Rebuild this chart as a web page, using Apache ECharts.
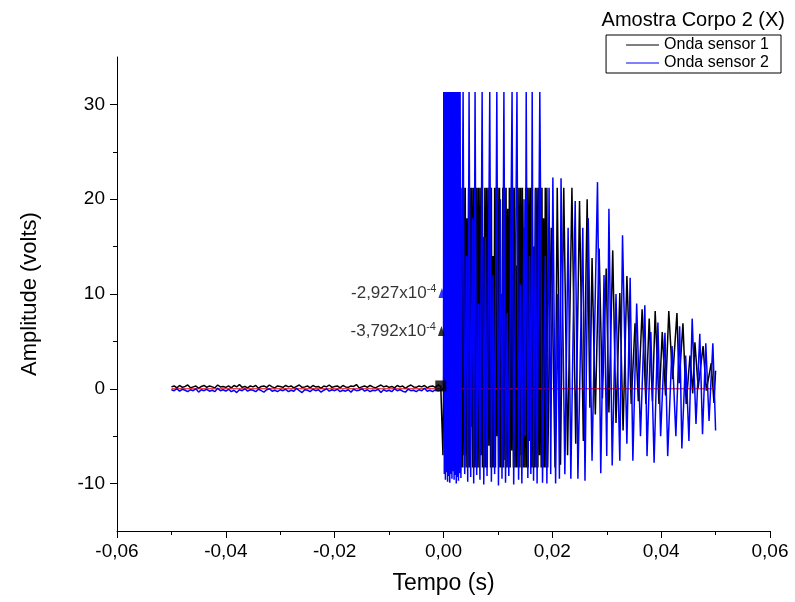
<!DOCTYPE html>
<html><head><meta charset="utf-8">
<script src="https://cdn.jsdelivr.net/npm/echarts@6/dist/echarts.min.js"></script>
<style>html,body{margin:0;padding:0;background:#fff}#c{width:795px;height:602px}</style>
</head><body><div id="c"></div>
<script>
// ---- tick labels ----
const xTicks = [-0.06, -0.04, -0.02, 0, 0.02, 0.04, 0.06];
const yMajor = [-10, 0, 10, 20, 30];
const yMinor = [-5, 5, 15, 25];

// ---- pre-trigger noise (time in ms) ----
const preT = [-50,-49.5,-49,-48.5,-48,-47.5,-47,-46.5,-46,-45.5,-45,-44.5,-44,-43.5,-43,-42.5,-42,-41.5,-41,-40.5,-40,-39.5,-39,-38.5,-38,-37.5,-37,-36.5,-36,-35.5,-35,-34.5,-34,-33.5,-33,-32.5,-32,-31.5,-31,-30.5,-30,-29.5,-29,-28.5,-28,-27.5,-27,-26.5,-26,-25.5,-25,-24.5,-24,-23.5,-23,-22.5,-22,-21.5,-21,-20.5,-20,-19.5,-19,-18.5,-18,-17.5,-17,-16.5,-16,-15.5,-15,-14.5,-14,-13.5,-13,-12.5,-12,-11.5,-11,-10.5,-10,-9.5,-9,-8.5,-8,-7.5,-7,-6.5,-6,-5.5,-5,-4.5,-4,-3.5,-3,-2.5,-2,-1.5,-1,-0.5];
const preS1 = [0.2,0.3,0.1,0.35,0.15,0.25,0.4,0.1,0.2,0.3,
  0.05,0.25,0.35,0.15,0.3,0.2,0.1,0.4,0.2,0.25,
  0.15,0.3,0.1,0.35,0.2,0.45,0.15,0.25,0.1,0.3,
  0.2,0.35,0.05,0.25,0.3,0.15,0.4,0.2,0.1,0.3,
  0.25,0.15,0.35,0.2,0.3,0.1,0.25,0.4,0.15,0.2,
  0.3,0.1,0.35,0.2,0.25,0.05,0.3,0.2,0.4,0.15,
  0.25,0.3,0.1,0.35,0.2,0.15,0.3,0.25,0.45,0.1,
  0.2,0.3,0.15,0.35,0.2,0.1,0.25,0.4,0.2,0.3,
  0.15,0.25,0.1,0.35,0.2,0.3,0.05,0.25,0.4,0.2,
  0.15,0.3,0.2,0.35,0.1,0.25,0.3,0.15,0.4,0.25];
const preS2 = [-0.1,-0.2,0.0,-0.25,-0.05,-0.15,-0.3,-0.1,-0.2,0.0,
  -0.35,-0.1,-0.2,-0.05,-0.25,-0.15,-0.3,0.05,-0.2,-0.1,
  -0.25,-0.05,-0.3,-0.15,-0.4,-0.1,-0.2,0.0,-0.25,-0.1,
  -0.15,-0.3,-0.05,-0.2,-0.35,-0.1,0.0,-0.25,-0.15,-0.3,
  -0.1,-0.2,-0.05,-0.3,-0.15,-0.25,0.05,-0.2,-0.4,-0.1,
  -0.15,-0.3,-0.05,-0.2,-0.1,-0.35,-0.15,0.0,-0.25,-0.1,
  -0.2,-0.05,-0.3,-0.15,-0.25,-0.1,-0.35,-0.05,-0.2,-0.15,
  0.0,-0.25,-0.1,-0.3,-0.15,-0.2,-0.05,-0.4,-0.1,-0.25,
  -0.15,-0.3,0.0,-0.2,-0.1,-0.25,-0.35,-0.05,-0.2,-0.15,
  -0.3,-0.1,-0.2,0.05,-0.25,-0.15,-0.3,-0.1,-0.2,-0.15];

// ---- sensor 1: trigger edge (ms, volts) ----
const s1EdgeT = [-0.3, -0.1, 0.1];
const s1EdgeV = [0.25, -7.0, 5.0];
// ---- sensor 1: clipped burst (ms, volts) ----
const s1BurstT = [0.4,0.55,0.7,0.85,1.0,1.15,1.3,1.45,1.6,1.75,1.9,2.05,2.2,2.35,2.5,2.65,2.8,2.95,3.1,3.25,3.4,3.55,3.7,3.85,4.0,4.15,4.3,4.45,4.6,4.75,4.9,5.05,5.2,5.35,5.5,5.65,5.8,5.95,6.1,6.25,6.4,6.55,6.7,6.85,7.0,7.15,7.3,7.45,7.6,7.75,7.9,8.05,8.2,8.35,8.5,8.65,8.8,8.95,9.1,9.25,9.4,9.55,9.7,9.85,10.0,10.15,10.3,10.45,10.6,10.75,10.9,11.05,11.2,11.35,11.5,11.65,11.8,11.95,12.1,12.25,12.4,12.55,12.7,12.85,13.0,13.15,13.3,13.45,13.6,13.75,13.9,14.05,14.2,14.35,14.5,14.65,14.8,14.95,15.1,15.25,15.4,15.55,15.7,15.85,16.0,16.15,16.3,16.45,16.6,16.75,16.9,17.05,17.2,17.35,17.5,17.65,17.8,17.95,18.1,18.25,18.4,18.55,18.7,18.85,19.0,19.15];
const s1BurstV = [21.2,-8.3,21.2,-8.3,15.0,-8.3,21.2,-7.5,21.2,-8.3,21.2,-6.0,21.2,-8.3,19.0,-8.3,21.2,-8.3,8.0,-8.3,
  21.2,-8.3,21.2,-7.0,21.2,-8.3,18.0,-8.3,21.2,-8.3,21.2,-4.0,21.2,-8.3,21.2,-8.3,12.0,-8.3,21.2,-8.3,
  21.2,-8.3,21.2,-7.0,21.2,-8.3,16.0,-8.3,21.2,-8.3,21.2,-8.3,21.2,-6.0,21.2,-8.3,21.2,-8.3,14.0,-8.3,
  21.2,-8.3,21.2,-5.0,21.2,-8.3,21.2,-8.3,10.0,-8.3,21.2,-8.3,21.2,-7.5,21.2,-8.3,19.0,-8.3,21.2,-8.3,
  21.2,-6.5,21.2,-8.3,21.2,-8.3,13.0,-8.3,21.2,-8.3,21.2,-8.3,21.2,-7.0,21.2,-8.3,17.0,-8.3,21.2,-8.3,
  21.2,-8.3,21.2,-5.5,21.2,-8.3,21.2,-8.3,15.0,-8.3,21.2,-8.3,21.2,-8.3,21.2,-7.0,21.2,-8.3,21.2,-8.3,
  18.0,-8.3,21.2,-8.3,21.2,-8.3];
// ---- sensor 1: decay (ms, volts) ----
const s1DecayT = [19.8,20.5,20.9,21.5,22.1,22.8,23.6,24.3,25.0,25.7,26.4,26.9,27.3,27.9,28.6,29.2,29.9,30.4,31.1,31.7,32.4,33.0,33.7,34.5,35.2,35.8,36.5,37.2,37.8,38.4,38.9,39.6,40.2,40.8,41.4,42.1,42.9,43.3,44.0,44.6,45.3,45.8,46.2,46.8,47.7,48.3,49.2,49.7,50.0];
const s1DecayV = [17.0,-8.3,21.2,-8.0,21.2,-7.0,21.2,-5.8,19.8,-5.5,20.0,-2.0,13.8,-2.7,14.8,-1.0,12.7,-2.5,14.6,-3.6,10.1,-4.4,11.9,-1.6,6.9,-1.3,8.4,-1.6,7.4,-1.3,8.2,-1.6,6.0,-0.7,8.2,1.0,8.0,0.6,6.9,-1.6,3.5,-0.5,4.9,0.1,4.5,-0.2,2.7,-1.5,1.9];

// ---- sensor 2 after trigger (ms, volts) ----
const s2T = [0.0,0.05,0.15,0.25,0.35,0.45,0.55,0.65,0.75,0.85,0.95,1.05,1.15,1.25,1.35,1.45,1.55,1.65,1.75,1.85,1.95,2.05,2.15,2.25,2.35,2.45,2.55,2.65,2.75,2.85,2.95,3.05,3.2,3.6,3.9,4.2,4.45,4.7,5.0,5.3,5.55,5.8,6.1,6.4,6.7,7.1,7.4,7.7,8.0,8.5,8.8,9.1,9.4,9.8,10.1,10.45,10.75,11.1,11.4,11.7,12.0,12.6,12.9,13.5,13.8,14.1,14.4,14.8,15.0,15.2,15.5,15.8,16.05,16.3,16.55,16.9,17.2,17.7,18.2,18.7,19.0,19.4,19.7,20.1,20.6,21.0,21.3,21.6,22.3,22.9,23.4,24.2,24.7,25.6,26.0,26.6,27.3,28.3,28.9,29.5,30.0,30.4,31.0,31.7,32.4,32.9,33.7,34.3,34.8,35.5,36.2,37.0,37.4,38.1,38.7,39.4,39.9,40.7,41.2,42.0,42.7,43.4,43.8,44.5,45.1,45.7,46.4,47.1,47.6,48.2,48.8,49.5,50.0];
const s2V = [0.0,31.3,-9.0,31.3,-9.6,31.3,-8.8,31.3,-9.8,31.3,-9.2,31.3,-9.9,31.3,-9.0,31.3,-9.5,31.3,-8.7,31.3,-9.6,31.3,-9.1,31.3,-10.0,31.3,-9.3,31.3,-9.7,31.3,-8.9,31.3,-9.4,31.3,-9.0,14.0,-9.8,31.3,-9.3,18.0,-10.0,31.3,-9.1,9.0,-9.6,31.3,-10.1,16.0,-9.2,31.3,-9.8,12.0,-9.0,31.3,-10.2,20.0,-9.5,31.3,-9.9,8.0,-9.2,31.3,-10.1,31.3,-9.6,11.0,-10.0,20.0,-5.0,31.3,-9.4,14.0,-9.0,31.3,-9.7,21.0,-10.0,31.3,-9.9,14.0,-10.0,21.2,-9.0,22.3,-10.0,10.0,-9.5,22.2,-9.0,17.0,-9.5,19.8,-9.5,17.0,-9.7,18.0,-7.6,21.8,-8.9,12.0,-7.1,19.0,-8.1,10.0,-7.6,16.2,-5.8,11.7,-7.6,9.0,-5.0,8.8,-7.1,6.0,-7.8,7.0,-5.0,5.9,-7.1,4.5,-5.0,6.6,-6.3,3.5,-5.5,7.4,-3.7,5.8,-4.8,4.8,-3.4,4.8,-4.4];

// ---- zero reference line (ms, volts) ----
const baseT = [-50, 50];
const baseV = [0, 0];

// ---- annotated points (ms, volts) ----
const startMarkT = [-0.5];
const startMarkV = [0.3];
const triT1 = [-0.3792];
const triV1 = [6.1];
const triLbl1 = ['-3,792x10', '-4'];
const triT2 = [-0.2927];
const triV2 = [10.1];
const triLbl2 = ['-2,927x10', '-4'];

const FONT = 'Liberation Sans, Arial, sans-serif';
const toXY = (T, V) => T.map((t, i) => [t / 1000, V[i]]);
const s1Data = toXY(preT, preS1).concat(toXY(s1EdgeT, s1EdgeV), toXY(s1BurstT, s1BurstV), toXY(s1DecayT, s1DecayV));
const s2Data = toXY(preT, preS2).concat(toXY(s2T, s2V));

const fmtX = v => Math.abs(v) < 1e-9 ? '0,00' : v.toFixed(2).replace('.', ',');

const chart = echarts.init(document.getElementById('c'), null, {renderer: 'canvas'});
const richSup = {
  a: {fontSize: 17, fontFamily: FONT, color: '#000', lineHeight: 19},
  b: {fontSize: 11, fontFamily: FONT, color: '#000', lineHeight: 11, verticalAlign: 'top'}
};
chart.setOption({
  animation: false,
  backgroundColor: '#fff',
  title: {
    text: 'Amostra Corpo 2 (X)', right: 5, top: 5,
    textStyle: {fontFamily: FONT, fontSize: 20, fontWeight: 'normal', color: '#000'}
  },
  legend: {
    orient: 'vertical', right: 14, top: 35,
    borderColor: '#000', borderWidth: 1, borderRadius: 0,
    padding: [2, 12, 2, 20], itemGap: 2, itemWidth: 33, itemHeight: 1,
    icon: 'rect',
    textStyle: {fontFamily: FONT, fontSize: 16, color: '#000'},
    data: ['Onda sensor 1', 'Onda sensor 2']
  },
  grid: {left: 117, right: 25, top: 57, bottom: 71},
  xAxis: {
    type: 'value', min: -0.06, max: 0.06, interval: 0.02,
    name: 'Tempo (s)', nameLocation: 'middle', nameGap: 41,
    nameTextStyle: {fontFamily: FONT, fontSize: 23, color: '#000'},
    axisLine: {show: true, onZero: false, lineStyle: {color: '#000', width: 1}},
    axisTick: {show: true, inside: false, length: 7, lineStyle: {color: '#000'}},
    minorTick: {show: true, splitNumber: 2, length: 4, lineStyle: {color: '#000'}},
    axisLabel: {formatter: fmtX, fontFamily: FONT, fontSize: 19, color: '#000', margin: 11},
    splitLine: {show: false}
  },
  yAxis: [{
    type: 'value', min: -15, max: 35,
    name: 'Amplitude (volts)', nameLocation: 'middle', nameGap: 76,
    nameTextStyle: {fontFamily: FONT, fontSize: 22, color: '#000'},
    axisLine: {show: true, onZero: false, lineStyle: {color: '#000', width: 1}},
    axisTick: {show: true, inside: false, length: 7, customValues: yMajor, lineStyle: {color: '#000'}},
    axisLabel: {customValues: yMajor, fontFamily: FONT, fontSize: 19, color: '#000', margin: 12},
    splitLine: {show: false}
  }, {
    type: 'value', min: -15, max: 35, position: 'left',
    axisLine: {show: false, onZero: false},
    axisTick: {show: true, inside: false, length: 4, customValues: yMinor, lineStyle: {color: '#000'}},
    axisLabel: {show: false},
    splitLine: {show: false}
  }],
  series: [
    {
      name: 'Onda sensor 1', type: 'line', data: s1Data, showSymbol: false, symbol: 'none',
      lineStyle: {color: '#000', width: 1.5}, itemStyle: {color: '#000'}, z: 2
    },
    {
      name: 'Zero', type: 'line', data: toXY(baseT, baseV), showSymbol: false, symbol: 'none',
      lineStyle: {color: '#e00000', width: 1}, itemStyle: {color: '#e00000'}, z: 3
    },
    {
      name: 'Onda sensor 2', type: 'line', data: s2Data, showSymbol: false, symbol: 'none',
      lineStyle: {color: '#0000ff', width: 1.5}, itemStyle: {color: '#0000ff'}, z: 4
    },
    {
      name: 'start', type: 'scatter', data: toXY(startMarkT, startMarkV), symbol: 'rect', symbolSize: 11,
      itemStyle: {color: '#000'}, z: 6
    },
    {
      name: 'tri1', type: 'scatter', data: toXY(triT1, triV1), symbol: 'triangle', symbolSize: [7, 10],
      itemStyle: {color: '#000'}, z: 6,
      label: {show: true, position: 'left', distance: 2,
        formatter: '{a|' + triLbl1[0] + '}{b|' + triLbl1[1] + '}', rich: richSup}
    },
    {
      name: 'tri2', type: 'scatter', data: toXY(triT2, triV2), symbol: 'triangle', symbolSize: [7, 10],
      itemStyle: {color: '#0000ff'}, z: 6,
      label: {show: true, position: 'left', distance: 2,
        formatter: '{a|' + triLbl2[0] + '}{b|' + triLbl2[1] + '}', rich: richSup}
    }
  ]
});
</script>
</body></html>
